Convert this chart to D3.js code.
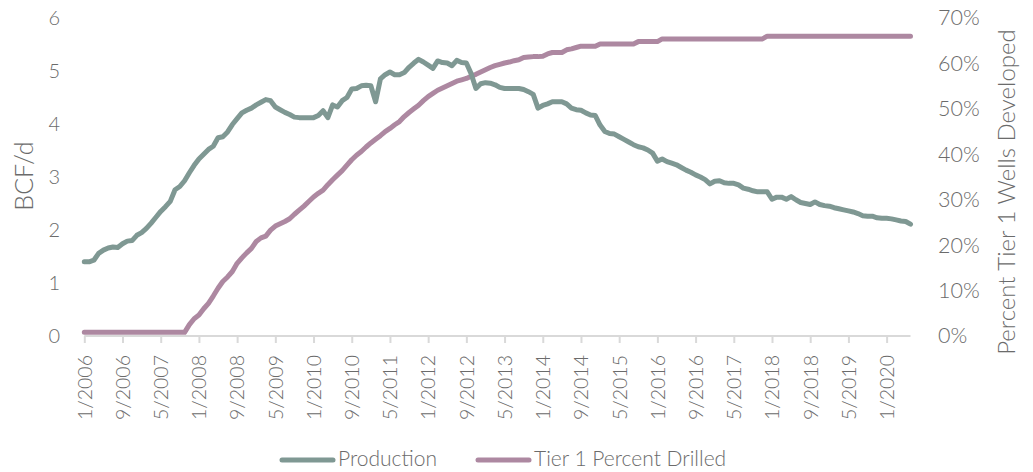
<!DOCTYPE html>
<html>
<head>
<meta charset="utf-8">
<script src="https://cdn.jsdelivr.net/npm/d3@7"></script>
<style>
  body { margin: 0; background: #fff; }
  svg { display: block; }
  text { font-family: Lato, "Open Sans", sans-serif; font-weight: 300; fill: #6b6b6b; }
</style>
</head>
<body>
<svg id="chart" width="1033" height="472"></svg>
<script>
// Monthly categories 1/2006 .. 6/2020
const startYear = 2006, monthCount = 174;
const categories = [];
for (let k = 0; k < monthCount; k++) {
  const y = startYear + Math.floor(k / 12), m = (k % 12) + 1;
  categories.push(m + "/" + y);
}
const tickLabels = ["1/2006","9/2006","5/2007","1/2008","9/2008","5/2009","1/2010","9/2010","5/2011","1/2012","9/2012","5/2013","1/2014","9/2014","5/2015","1/2016","9/2016","5/2017","1/2018","9/2018","5/2019","1/2020"];
const leftTicks = [0,1,2,3,4,5,6];
const rightTicks = [0,0.1,0.2,0.3,0.4,0.5,0.6,0.7];

// Production, BCF/d
const production = [
 1.40,1.40,1.43,1.56,1.62,1.66,1.68,1.67,1.74,1.79,1.80,1.90,
 1.95,2.03,2.13,2.24,2.35,2.44,2.54,2.76,2.82,2.93,3.08,3.22,
 3.34,3.43,3.52,3.58,3.74,3.76,3.85,3.99,4.10,4.21,4.26,4.30,
 4.36,4.41,4.46,4.44,4.32,4.27,4.22,4.18,4.13,4.12,4.12,4.12,
 4.12,4.16,4.25,4.12,4.36,4.32,4.44,4.50,4.66,4.67,4.72,4.73,
 4.72,4.42,4.85,4.93,4.98,4.93,4.93,4.97,5.07,5.15,5.22,5.17,
 5.11,5.05,5.19,5.16,5.15,5.10,5.20,5.16,5.15,4.95,4.67,4.76,
 4.78,4.77,4.74,4.69,4.67,4.67,4.67,4.67,4.65,4.61,4.56,4.30,
 4.35,4.38,4.42,4.42,4.42,4.38,4.30,4.27,4.26,4.21,4.17,4.16,
 3.98,3.86,3.82,3.81,3.76,3.71,3.66,3.61,3.57,3.55,3.51,3.45,
 3.30,3.34,3.29,3.26,3.23,3.18,3.13,3.09,3.04,3.00,2.95,2.87,
 2.92,2.93,2.89,2.88,2.88,2.85,2.79,2.77,2.74,2.72,2.72,2.72,
 2.58,2.62,2.62,2.58,2.63,2.57,2.52,2.50,2.48,2.53,2.48,2.46,
 2.45,2.42,2.40,2.38,2.36,2.34,2.31,2.27,2.26,2.26,2.23,2.22,
 2.22,2.21,2.19,2.17,2.16,2.11
];

// Tier 1 percent drilled (%)
const tier1Pct = [
 0.8,0.8,0.8,0.8,0.8,0.8,0.8,0.8,0.8,0.8,0.8,0.8,
 0.8,0.8,0.8,0.8,0.8,0.8,0.8,0.8,0.8,0.8,2.5,3.8,
 4.6,6.0,7.2,8.8,10.5,12.0,13.0,14.2,16.0,17.2,18.3,19.3,
 20.8,21.6,22.0,23.3,24.2,24.7,25.2,25.8,26.8,27.7,28.6,29.6,
 30.6,31.4,32.1,33.3,34.4,35.4,36.4,37.6,38.8,39.8,40.6,41.6,
 42.5,43.3,44.1,45.0,45.7,46.5,47.2,48.3,49.2,50.0,50.8,51.8,
 52.7,53.4,54.1,54.6,55.1,55.6,56.1,56.4,56.7,57.2,57.6,58.1,
 58.6,59.1,59.5,59.8,60.1,60.3,60.6,60.8,61.3,61.4,61.5,61.5,
 61.6,62.1,62.4,62.4,62.4,63.0,63.2,63.5,63.8,63.8,63.8,63.8,
 64.3,64.3,64.3,64.3,64.3,64.3,64.3,64.3,64.8,64.8,64.8,64.8,
 64.8,65.4,65.4,65.4,65.4,65.4,65.4,65.4,65.4,65.4,65.4,65.4,
 65.4,65.4,65.4,65.4,65.4,65.4,65.4,65.4,65.4,65.4,65.4,66.0,
 66.0,66.0,66.0,66.0,66.0,66.0,66.0,66.0,66.0,66.0,66.0,66.0,
 66.0,66.0,66.0,66.0,66.0,66.0,66.0,66.0,66.0,66.0,66.0,66.0,
 66.0,66.0,66.0,66.0,66.0,66.0
];

const prodColor = "#7f9893";
const pctColor = "#ad88a1";
const axisColor = "#d9d9d9";

const svg = d3.select("#chart");
const x = d3.scalePoint().domain(categories).range([84.3, 910.5]);
const yL = d3.scaleLinear().domain([0, 6]).range([336, 18]);
const yR = d3.scaleLinear().domain([0, 0.7]).range([336, 18]);

// X axis
const xAxis = d3.axisBottom(x).tickValues(tickLabels).tickSize(7).tickSizeOuter(0).tickFormat(d => d);
const gx = svg.append("g").attr("transform", "translate(0,336)").call(xAxis);
gx.select(".domain").attr("stroke", axisColor).attr("stroke-width", 2).attr("d", `M${x.range()[0]},0H${x.range()[1]}`);
gx.selectAll(".tick line").attr("stroke", axisColor).attr("stroke-width", 2);
gx.selectAll(".tick text")
  .attr("transform", "rotate(-90)")
  .attr("x", -19).attr("y", 0).attr("dy", "0.35em")
  .attr("text-anchor", "end")
  .style("font-size", "19.5px");

// Left axis
const gl = svg.append("g").attr("transform", "translate(62,0)")
  .call(d3.axisLeft(yL).tickValues(leftTicks).tickSize(0).tickFormat(d3.format("d")));
gl.select(".domain").remove();
gl.selectAll(".tick text").attr("x", -2).style("font-size", "20px");

// Right axis
const gr = svg.append("g").attr("transform", "translate(936,0)")
  .call(d3.axisRight(yR).tickValues(rightTicks).tickSize(0).tickFormat(d3.format(".0%")));
gr.select(".domain").remove();
gr.selectAll(".tick text").attr("x", 2).style("font-size", "21.5px");

// Axis titles
svg.append("text").attr("transform", "translate(33,176) rotate(-90)")
  .attr("text-anchor", "middle").style("font-size", "25px").text("BCF/d");
svg.append("text").attr("transform", "translate(1015,192) rotate(-90)")
  .attr("text-anchor", "middle").style("font-size", "24px").text("Percent Tier 1 Wells Developed");

// Lines
const lineProd = d3.line().x((d, i) => x(categories[i])).y(d => yL(d));
const linePct = d3.line().x((d, i) => x(categories[i])).y(d => yR(d / 100));

svg.append("path").datum(tier1Pct).attr("d", linePct)
  .attr("fill", "none").attr("stroke", pctColor).attr("stroke-width", 5)
  .attr("stroke-linejoin", "round").attr("stroke-linecap", "round");
svg.append("path").datum(production).attr("d", lineProd)
  .attr("fill", "none").attr("stroke", prodColor).attr("stroke-width", 5)
  .attr("stroke-linejoin", "round").attr("stroke-linecap", "round");

// Legend
const legend = [
  {name: "Production", color: prodColor, x: 282},
  {name: "Tier 1 Percent Drilled", color: pctColor, x: 478}
];
const lg = svg.append("g");
legend.forEach(l => {
  lg.append("line").attr("x1", l.x).attr("x2", l.x + 51).attr("y1", 460).attr("y2", 460)
    .attr("stroke", l.color).attr("stroke-width", 5).attr("stroke-linecap", "round");
  lg.append("text").attr("x", l.x + 56).attr("y", 459).attr("dy", "0.35em")
    .style("font-size", "21px").text(l.name);
});
</script>
</body>
</html>
